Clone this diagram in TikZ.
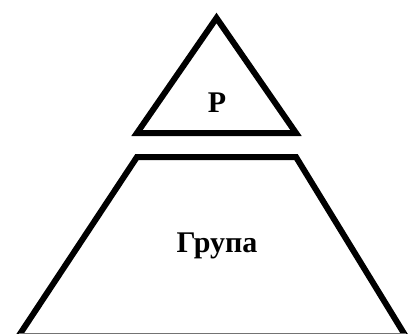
\documentclass[tikz,border=0pt]{standalone}
\usepackage{fontspec}
\setmainfont{Liberation Serif}
\begin{document}
\begin{tikzpicture}[x=1pt,y=-1pt,
  shape line/.style={line width=6pt,line join=miter,black},
  label text/.style={font=\bfseries\fontsize{30}{33}\selectfont,inner sep=0pt,anchor=base}]
\useasboundingbox (0,0) rectangle (410,335);
\fill[white] (0,0) rectangle (410,335);
% top triangle
\coordinate (apex) at (216.5,18);
\coordinate (tl) at (137,133);
\coordinate (tr) at (296,133);
\draw[shape line] (apex) -- (tr) -- (tl) -- cycle;
% trapezoid
\coordinate (ql) at (137,157);
\coordinate (qr) at (296,157);
\coordinate (bl) at (16,340);
\coordinate (br) at (408,340);
\begin{scope}
\clip (0,0) rectangle (410,333.5);
\draw[shape line] (bl) -- (ql) -- (qr) -- (br);
\end{scope}
\draw[line width=1.2pt,black!55] (19,333.8) -- (406,333.8);
\node[label text] (p) at (217,112.5) {Р};
\node[label text] (g) at (217,252.5) {Група};
\end{tikzpicture}
\end{document}
